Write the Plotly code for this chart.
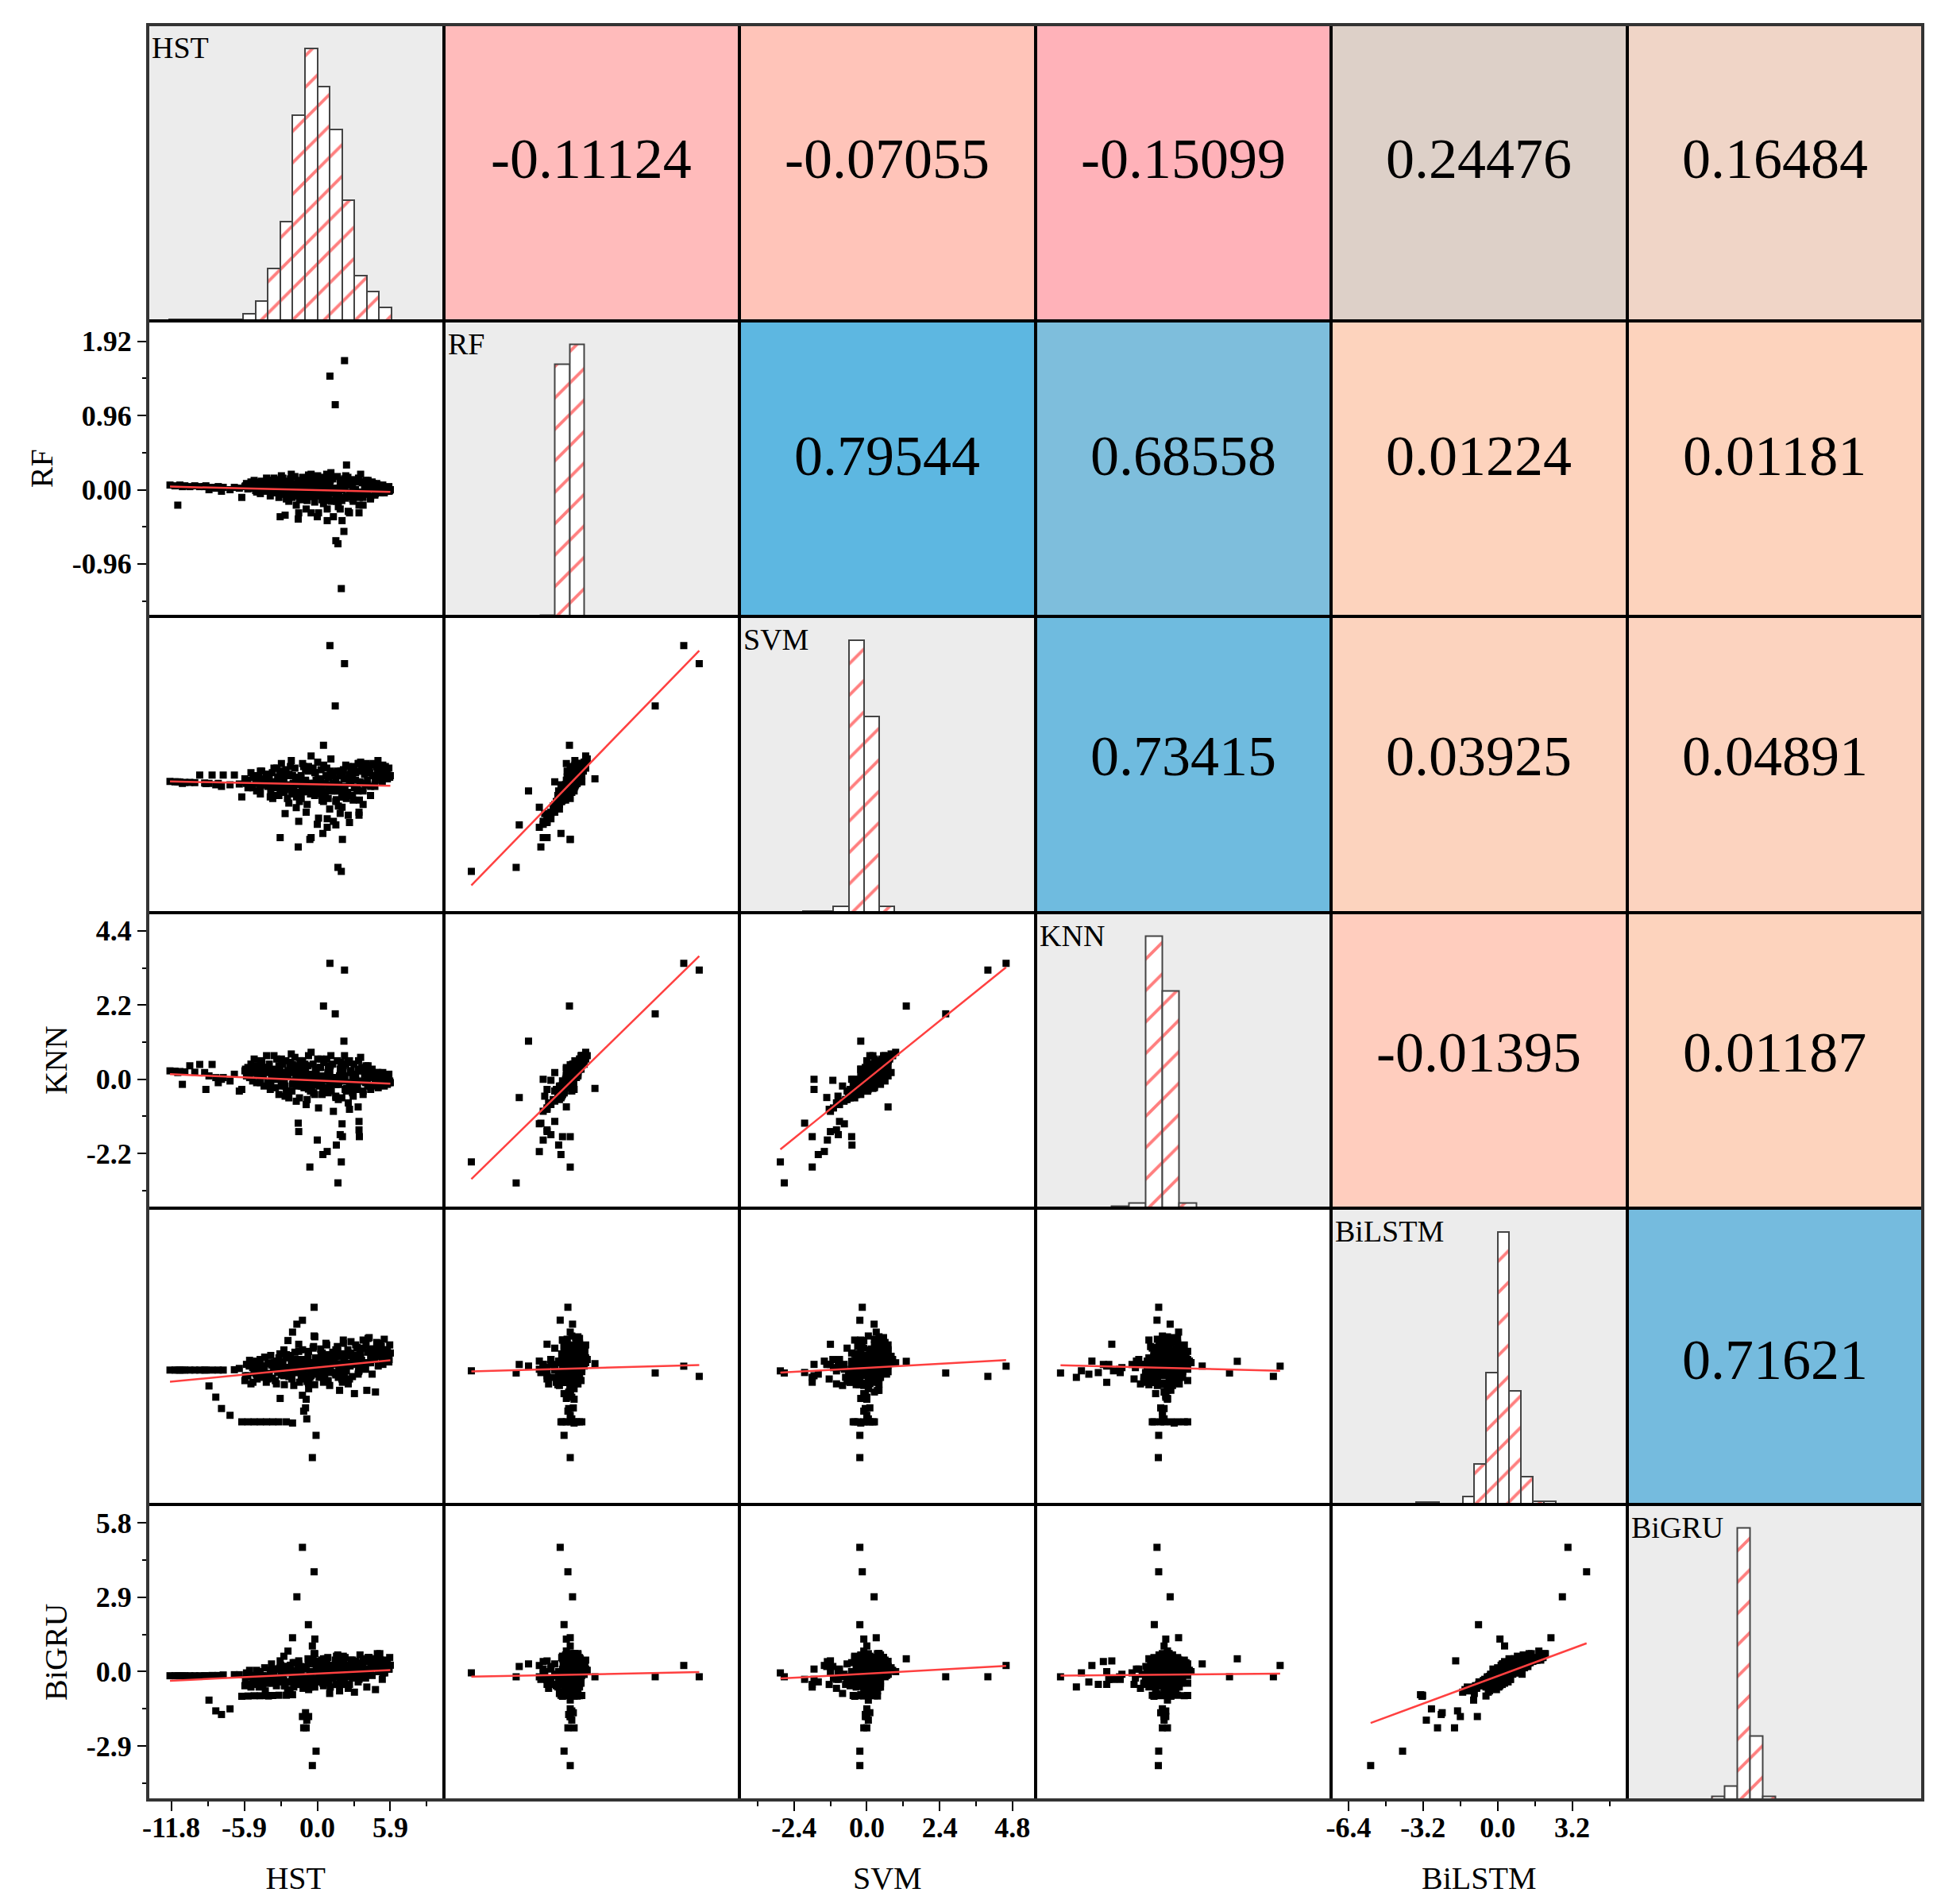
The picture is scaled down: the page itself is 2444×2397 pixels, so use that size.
import plotly.graph_objects as go
from plotly.subplots import make_subplots

MODELS = ["HST", "RF", "SVM", "KNN", "BiLSTM", "BiGRU"]

# residual samples, one value per sample for every model (same order in each list)
HST = [
    # long left tail
    -11.9, -11.5, -11.1, -10.7, -10.3, -9.9, -9.5, -9.1, -8.5, -8.0, -7.6, -6.7, -6.3, -10.9, -9.0, -11.27,
    # lower branch
    -8.75, -8.2, -7.74, -7.05, -6.1, -5.6, -5.1, -4.6, -4.1, -3.6, -3.1, -2.5, -2.0,
    -0.9, -1.1, -0.85, -1.2, -0.95, -0.7,
    -2.7, -2.37, -0.26,
    -0.4, -0.2, -3.0,
    -1.5, 0.8, 0.0,
    # BiLSTM / BiGRU outliers
    -0.26, -1.2, -1.65, -2.0, -0.72, -0.4, -0.1,
    # RF / SVM / KNN outliers
    1.02, 2.2, 1.45, 0.5, 2.15, 1.67, 1.94, -0.6, 0.45, 2.36, -2.6, -1.54, 1.5, 2.03,
    3.37, 3.37, 3.4, 2.0, 1.85, 1.54, 3.3,
    -3.0, -0.5, 0.8, 2.6,
    # core
    -5.8, -5.5, -5.2, -4.9, -4.6, -4.3, -4.0, -3.8, -3.5, -3.3,
    -3.1, -2.9, -2.7, -2.5, -2.3, -2.1, -1.9, -1.7, -1.5, -1.3,
    -1.1, -0.9, -0.7, -0.5, -0.3, -0.1, 0.1, 0.3, 0.5, 0.7,
    0.9, 1.1, 1.3, 1.5, 1.7, 1.9, 2.1, 2.3, 2.5, 2.7,
    2.9, 3.1, 3.3, 3.5, 3.7, 3.9, 4.1, 4.3, 4.5, 4.7,
    4.9, 5.1, 5.3, 5.5, 5.8, -0.6, 0.2, 0.6, 1.2, -1.0,
    1.8, 2.6, -2.0, 3.0, 4.0, -0.2, 0.4, -1.4, 2.2, 1.0,
    -5.85, -5.72, -5.61, -5.47, -5.36, -5.22, -5.11, -4.98, -4.86, -4.73,
    -4.62, -4.49, -4.37, -4.25, -4.12, -4.01, -3.88, -3.76, -3.63, -3.52,
    -3.39, -3.27, -3.15, -3.02, -2.91, -2.78, -2.66, -2.54, -2.41, -2.29,
    -2.17, -2.05, -1.92, -1.81, -1.68, -1.56, -1.44, -1.31, -1.19, -1.07,
    -0.95, -0.82, -0.71, -0.58, -0.46, -0.34, -0.21, -0.09, 0.03, 0.15,
    0.27, 0.39, 0.52, 0.64, 0.76, 0.88, 1.01, 1.13, 1.25, 1.37,
    1.49, 1.62, 1.74, 1.86, 1.98, 2.11, 2.23, 2.35, 2.47, 2.6,
    2.72, 2.84, 2.96, 3.09, 3.21, 3.33, 3.45, 3.58, 3.7, 3.82,
    3.94, 4.07, 4.19, 4.31, 4.43, 4.56, 4.68, 4.8, 4.92, 5.05,
    5.17, 5.29, 5.41, 5.54, 5.66, 5.78, 5.9, -0.5, 0.6, 1.9,
    -4.95, -4.4, -3.95, -3.45, -3.05, -2.6, -2.2, -1.75, -1.35, -0.95,
    -0.55, -0.15, 0.25, 0.65, 1.05, 1.45, 1.85, 2.25, 2.65, 3.05,
    3.45, 3.85, 4.25, 4.65, 5.05, 5.45, 5.85, -4.7, -4.2, -3.7,
    -3.2, -2.8, -2.4, -1.95, -1.55, -1.15, -0.75, -0.35, 0.05, 0.45,
    0.85, 1.25, 1.65, 2.05, 2.45, 2.85, 3.25, 3.65, 4.05, 4.45,
    4.85, 5.25, 5.65, -0.25, 0.35, 0.95, 1.55, 2.15, -1.85, -2.95,
]
RF = [
    0.06, 0.05, 0.06, 0.05, 0.04, 0.05, 0.04, 0.04, 0.03, 0.04, 0.03, 0.03, 0.02, 0.04, 0.05, -0.20,
    0.00, 0.02, -0.02, 0.00, -0.10, 0.05, 0.12, -0.05, 0.15, 0.00, 0.08, -0.12, 0.05,
    0.05, -0.03, 0.02, 0.00, 0.04, 0.00,
    0.05, -0.05, 0.02,
    0.00, -0.05, -0.05,
    -0.30, -0.40, -0.35,
    -0.03, -0.13, 0.03, 0.00, -0.08, 0.00, -0.08,
    1.47, 1.67, 1.10, -0.01, -0.54, -0.70, -1.28, 0.00, -0.12, 0.32, -0.33, -0.38, -0.66, 0.00,
    -0.20, -0.30, -0.10, -0.40, -0.25, -0.15, -0.05,
    -0.35, -0.30, -0.25, -0.30,
    0.05, 0.02, 0.08, -0.03, 0.10, 0.00, 0.12, -0.08, 0.15, 0.05,
    -0.10, 0.18, -0.05, 0.08, -0.15, 0.20, 0.00, -0.20, 0.10, -0.12,
    0.14, -0.25, 0.05, 0.20, -0.08, 0.00, -0.30, 0.16, -0.18, 0.08,
    -0.05, 0.22, -0.35, 0.02, -0.22, 0.12, -0.10, 0.18, -0.28, 0.06,
    -0.15, 0.10, -0.05, 0.20, -0.20, 0.04, 0.12, -0.12, 0.08, -0.02,
    0.06, -0.04, 0.02, 0.00, -0.02, -0.02, 0.06, -0.10, 0.00, 0.04,
    0.00, 0.10, -0.04, -0.08, 0.00, 0.10, -0.06, 0.06, 0.14, -0.14,
    0.04, 0.08, 0.01, 0.06, 0.10, 0.03, 0.07, -0.01, 0.09, 0.05,
    0.02, 0.11, 0.06, -0.02, 0.08, 0.04, 0.12, 0.00, 0.07, 0.10,
    -0.04, 0.13, 0.05, 0.09, -0.06, 0.15, 0.02, 0.11, -0.08, 0.06,
    0.14, -0.10, 0.08, 0.17, -0.03, 0.12, -0.12, 0.05, 0.16, -0.07,
    0.10, -0.14, 0.19, 0.02, -0.09, 0.13, -0.16, 0.07, 0.18, -0.05,
    0.11, -0.13, 0.15, -0.02, 0.20, -0.10, 0.06, -0.15, 0.14, 0.01,
    -0.11, 0.17, -0.06, 0.09, -0.14, 0.12, 0.03, -0.09, 0.16, -0.04,
    0.08, -0.12, 0.13, 0.00, -0.08, 0.15, -0.03, 0.10, -0.10, 0.05,
    0.12, -0.06, 0.07, -0.09, 0.10, 0.02, -0.05, 0.08, -0.03, 0.05,
    0.00, 0.06, -0.04, 0.03, -0.02, 0.04, 0.00, 0.01, -0.03, 0.09,
    0.07, 0.03, 0.09, 0.01, 0.06, -0.02, 0.10, 0.04, -0.05, 0.08,
    -0.07, 0.11, 0.00, -0.09, 0.12, -0.04, 0.07, -0.11, 0.09, -0.06,
    0.10, -0.03, 0.06, -0.07, 0.04, 0.02, -0.01, 0.05, 0.08, 0.02,
    0.07, -0.04, 0.09, 0.01, -0.08, 0.06, 0.13, -0.03, 0.05, -0.10,
    0.08, 0.00, -0.06, 0.11, -0.09, 0.04, -0.05, 0.09, -0.02, 0.03,
    0.06, -0.03, 0.02, 0.03, -0.04, 0.07, -0.02, 0.05, -0.06, 0.04,
]
SVM = [
    0.11, 0.10, 0.09, 0.08, 0.08, 0.07, 0.32, 0.06, 0.32, 0.05, 0.32, 0.32, 0.03, 0.05, 0.04, 0.10,
    0.05, 0.00, -0.05, 0.00, -0.40, -0.10, 0.25, -0.30, 0.10, -0.45, 0.20, 0.00, -0.20,
    0.00, -0.10, 0.05, -0.05, 0.10, 0.00,
    0.10, -0.10, 0.05,
    0.00, -0.10, -0.20,
    -1.20, -1.40, -1.30,
    -0.15, -0.23, 0.24, 0.31, -0.23, -0.23, -0.23,
    4.59, 3.99, 2.60, 1.30, -0.20, -2.72, -2.85, -1.80, -1.60, 0.20, -0.95, -2.05, -1.32, -1.80,
    -0.90, -1.00, -0.50, -0.74, -0.94, -0.49, 0.70,
    -1.74, -1.74, -1.12, -1.24,
    0.10, -0.05, 0.30, -0.20, 0.45, 0.05, 0.20, -0.40, 0.55, 0.10,
    -0.35, 0.70, -0.25, 0.35, -0.60, 0.80, -0.10, -0.75, 0.25, -0.45,
    0.60, -0.90, 0.05, 0.95, -0.30, 0.15, -1.10, 0.50, -0.55, 0.30,
    -0.05, 0.85, -1.20, 0.20, -0.70, 0.45, -0.40, 0.65, -1.00, 0.10,
    -0.50, 0.40, -0.20, 0.75, -0.65, 0.00, 0.55, -0.35, 0.70, 0.25,
    0.80, 0.45, 0.20, 0.60, 0.30, -0.15, 0.20, -0.25, 0.00, 0.10,
    0.35, 0.30, -0.20, -0.10, 0.40, 0.40, -0.50, 0.00, 0.20, -0.80,
    0.20, 0.05, 0.15, -0.05, 0.40, -0.10, 0.30, 0.10, 0.05, 0.25,
    -0.15, 0.45, 0.00, 0.15, 0.35, -0.05, 0.20, -0.20, 0.40, 0.10,
    -0.35, 0.55, 0.00, 0.45, -0.05, 0.30, -0.25, 0.50, -0.45, 0.35,
    0.60, -0.30, 0.05, 0.55, -0.40, 0.15, -0.55, 0.30, 0.70, -0.05,
    0.50, -0.65, 0.60, -0.15, -0.10, 0.55, -0.35, 0.00, 0.75, -0.30,
    0.15, -0.50, 0.65, 0.05, 0.55, -0.45, 0.30, -0.20, 0.40, -0.20,
    -0.55, 0.45, 0.00, 0.40, -0.40, 0.50, -0.05, -0.45, 0.60, 0.05,
    0.45, -0.35, 0.60, 0.15, -0.15, 0.70, 0.10, 0.55, -0.20, 0.35,
    0.70, 0.00, 0.55, -0.05, 0.65, 0.30, 0.15, 0.60, 0.25, 0.50,
    0.35, 0.65, 0.25, 0.45, 0.20, 0.55, 0.30, -0.10, 0.05, 0.30,
    0.25, 0.00, 0.35, -0.10, 0.10, -0.15, 0.30, 0.20, -0.25, 0.15,
    -0.30, 0.40, 0.05, -0.35, 0.45, -0.05, 0.30, -0.40, 0.35, -0.10,
    0.45, 0.05, 0.40, -0.05, 0.35, 0.40, 0.25, 0.10, 0.20, 0.00,
    0.25, -0.20, 0.30, 0.05, -0.30, 0.10, 0.45, -0.15, 0.20, -0.35,
    0.25, 0.05, -0.20, 0.40, -0.25, 0.20, -0.10, 0.45, 0.15, 0.30,
    0.40, 0.10, 0.35, 0.05, -0.15, 0.25, 0.00, 0.20, -0.25, 0.10,
]
KNN = [
    0.25, 0.24, 0.23, 0.22, 0.40, 0.21, 0.44, 0.20, 0.44, -0.10, 0.05, 0.15, -0.35, -0.15, -0.30, 0.20,
    0.10, 0.05, 0.00, -0.05, -0.30, 0.20, 0.60, -0.10, 0.70, 0.00, 0.40, -0.35, 0.30,
    0.10, -0.05, 0.00, 0.05, -0.10, 0.00,
    0.05, 0.10, -0.05,
    0.00, 0.05, 0.10,
    -1.55, -2.14, -1.80,
    -0.16, -0.21, 0.18, 0.43, -0.29, -0.17, -0.16,
    3.44, 3.24, 1.94, 2.17, 1.13, -3.07, -2.45, -2.60, -2.23, -0.27, -0.50, -1.30, -0.54, -1.70,
    -1.25, -1.50, -1.70, -1.32, -1.64, -1.95, -0.82,
    0.00, -0.30, -0.03, -0.89,
    0.30, 0.10, 0.40, -0.10, 0.55, -0.20, 0.35, -0.30, 0.70, 0.05,
    -0.45, 0.60, 0.00, 0.20, -0.55, 0.75, 0.25, -0.65, 0.40, -0.20,
    0.30, -0.75, 0.15, 0.80, -0.40, -0.05, -0.85, 0.60, -0.30, 0.05,
    0.35, 0.70, -0.95, -0.15, -0.60, 0.50, -0.05, 0.45, -0.70, 0.25,
    -0.50, 0.15, 0.30, 0.65, -0.35, -0.10, 0.40, -0.20, 0.10, 0.00,
    0.20, -0.15, 0.05, -0.05, -0.10, 0.10, 0.35, -0.35, 0.05, 0.45,
    0.10, 0.55, -0.15, -0.25, 0.20, 0.10, 0.00, 0.55, 0.70, -0.20,
    0.25, 0.10, 0.35, 0.05, 0.45, -0.05, 0.30, 0.20, 0.15, 0.40,
    0.00, 0.50, 0.10, 0.25, 0.35, -0.10, 0.45, -0.15, 0.30, 0.20,
    -0.25, 0.60, 0.15, 0.35, -0.20, 0.45, -0.05, 0.55, -0.40, 0.25,
    0.50, -0.35, 0.20, 0.65, -0.15, 0.30, -0.55, 0.10, 0.55, -0.25,
    0.40, -0.60, 0.70, -0.05, -0.30, 0.45, -0.45, 0.15, 0.60, -0.20,
    0.35, -0.45, 0.50, 0.10, 0.60, -0.40, 0.20, -0.35, 0.45, -0.10,
    -0.50, 0.55, -0.15, 0.30, -0.55, 0.40, 0.05, -0.35, 0.50, -0.10,
    0.25, -0.40, 0.45, 0.00, -0.30, 0.55, -0.05, 0.35, -0.45, 0.15,
    0.40, -0.20, 0.25, -0.30, 0.30, 0.05, -0.15, 0.20, -0.25, 0.10,
    -0.05, 0.20, -0.20, 0.10, -0.15, 0.15, -0.10, 0.00, -0.25, 0.25,
    0.30, 0.10, 0.20, 0.00, 0.15, -0.20, 0.35, 0.05, -0.15, 0.25,
    -0.35, 0.30, 0.10, -0.25, 0.40, 0.05, 0.15, -0.30, 0.20, -0.15,
    0.25, -0.05, 0.15, -0.20, 0.10, 0.05, -0.05, 0.20, 0.30, 0.10,
    0.15, -0.10, 0.25, -0.05, -0.20, 0.15, 0.40, 0.00, 0.10, -0.25,
    0.20, -0.10, -0.15, 0.30, -0.30, 0.05, -0.20, 0.25, 0.00, 0.10,
    0.15, -0.10, 0.05, 0.10, -0.15, 0.20, -0.05, 0.10, -0.10, 0.15,
]
BILSTM = [
    -0.05, -0.05, -0.05, -0.05, -0.05, -0.05, -0.05, -0.05, -0.05, -0.05, -0.05, -0.03, 0.05, -0.05, -0.05, -0.05,
    -1.03, -1.72, -2.42, -2.84, -3.24, -3.24, -3.24, -3.24, -3.24, -3.24, -3.24, -3.24, -3.31,
    -1.85, -2.58, -3.06, -1.60, -2.38, -0.87,
    1.19, 1.77, 2.05,
    0.30, 0.10, -1.80,
    1.54, 0.50, 0.30,
    3.82, 3.02, 2.78, 2.29, -0.82, -5.45, -4.08,
    0.19, -0.44, -0.23, 0.49, 0.20, -0.23, -0.10, -0.50, -0.30, 0.35, 0.10, -0.20, 0.30, -0.80,
    0.10, -0.10, 0.20, 0.00, 0.30, -0.20, 0.50,
    0.30, -0.40, 0.60, -0.60,
    -0.40, 0.20, -0.80, 0.50, -0.30, 0.10, -0.60, 0.40, 0.00, -0.90,
    0.70, 0.25, -0.40, 0.90, -0.20, 0.50, -1.00, 0.30, 1.10, -0.60,
    0.00, 0.60, -1.20, 0.40, 1.40, -0.30, 0.10, 0.90, -0.80, 1.60,
    -0.10, 0.60, 0.30, 1.20, -0.50, 0.80, 1.80, 0.20, -0.90, 1.00,
    0.50, 1.50, -0.30, 0.70, 1.30, 0.00, 1.90, 0.40, 1.10, -1.40,
    0.80, 1.60, 0.30, 1.20, 0.60, 0.20, 0.50, -0.40, 0.70, -0.50,
    -1.30, 0.35, 0.10, -1.50, -1.30, 2.00, 1.00, 0.60, -0.70, -1.00,
    -0.70, 0.30, -0.40, 0.55, -0.90, 0.10, -0.20, 0.45, -0.60, 0.20,
    0.60, -0.50, 0.00, 0.75, -0.80, 0.35, -0.25, 0.85, -0.55, 0.15,
    -0.70, 0.50, 0.05, 0.95, -0.35, 0.30, -0.95, 0.70, 0.10, -0.45,
    0.85, -0.60, 0.40, 1.05, -0.20, 0.60, -0.80, 0.25, 1.20, -0.40,
    0.55, -0.75, 1.10, 0.05, -0.30, 1.30, -0.95, 0.70, 0.35, -0.50,
    1.25, -0.40, 0.80, 0.10, 1.50, -0.70, 0.45, -0.20, 1.05, 0.65,
    -0.35, 1.40, 0.20, 0.95, -0.60, 1.60, 0.60, -0.10, 1.20, 0.35,
    1.70, -0.45, 0.85, 0.30, 1.35, -0.15, 1.05, 0.55, 1.80, 0.10,
    1.50, 0.40, 1.95, 0.75, -0.30, 1.25, 0.90, 1.65, 0.20, 1.10,
    1.40, 0.60, 1.85, 0.95, 1.20, 0.45, 1.00, 0.40, 0.80, -0.20,
    -0.30, 0.20, -0.50, 0.40, -0.10, 0.10, -0.40, 0.55, 0.00, 0.30,
    -0.20, 0.70, 0.15, 0.50, -0.10, 0.80, 0.35, 0.95, 0.20, 0.65,
    1.10, 0.40, 1.25, 0.60, 1.35, 0.90, 1.50, 0.05, -0.35, 0.25,
    -0.20, 0.45, -0.05, 0.60, 0.15, -0.30, 0.75, 0.35, 0.55, 0.10,
    0.90, 0.45, 1.15, 0.20, 0.85, 0.50, 1.30, 0.25, 1.05, 0.70,
    1.45, 0.55, 1.15, 0.05, 0.65, 0.30, 0.85, 0.40, -0.10, 0.20,
]
BIGRU = [
    -0.16, -0.16, -0.16, -0.16, -0.16, -0.16, -0.16, -0.16, -0.15, -0.15, -0.13, -0.12, -0.12, -0.16, -0.16, -0.16,
    -1.11, -1.53, -1.67, -1.45, -0.96, -0.95, -0.94, -0.94, -0.93, -0.93, -0.92, -0.92, -0.90,
    -2.19, -2.19, -1.89, -1.75, -1.60, -1.75,
    0.60, 0.80, 0.70,
    1.00, 1.27, 0.42,
    0.42, 0.24, 0.39,
    3.89, 4.84, 2.92, 1.32, 1.83, -3.66, -3.10,
    0.24, -0.20, -0.20, 0.50, 0.30, -0.20, -0.05, -0.60, -0.40, -0.20, 0.00, -0.30, 0.20, -0.50,
    -0.10, -0.30, 0.00, -0.20, -0.30, -0.50, 0.10,
    0.10, -0.30, 0.20, -0.50,
    -0.30, -0.20, -0.50, 0.05, -0.35, -0.25, -0.45, 0.00, -0.15, -0.55,
    0.10, -0.10, -0.35, 0.20, -0.40, 0.05, -0.60, -0.10, 0.30, -0.50,
    -0.20, 0.10, -0.70, 0.00, 0.40, -0.30, -0.25, 0.15, -0.55, 0.50,
    -0.20, 0.05, -0.05, 0.30, -0.50, 0.20, 0.60, -0.10, -0.65, 0.25,
    0.00, 0.40, -0.40, 0.10, 0.30, -0.25, 0.55, -0.05, 0.20, -0.70,
    0.15, 0.45, -0.05, 0.30, 0.10, -0.15, 0.00, -0.35, 0.10, -0.40,
    -0.75, -0.05, -0.30, -0.80, -0.60, 0.70, 0.35, 0.00, -0.45, -0.85,
    -0.55, -0.05, -0.50, 0.05, -0.60, -0.30, -0.20, -0.15, -0.35, -0.10,
    0.00, -0.45, -0.15, 0.15, -0.40, -0.20, -0.45, 0.05, -0.30, -0.05,
    -0.45, 0.10, -0.30, 0.15, -0.20, -0.10, -0.55, 0.20, -0.05, -0.40,
    0.25, -0.35, -0.15, 0.35, -0.30, 0.00, -0.50, -0.05, 0.20, -0.25,
    0.15, -0.45, 0.30, -0.20, -0.10, 0.45, -0.60, 0.05, 0.10, -0.35,
    0.35, -0.30, 0.20, -0.15, 0.45, -0.40, 0.05, -0.25, 0.25, 0.10,
    -0.20, 0.40, -0.05, 0.30, -0.35, 0.50, 0.15, -0.15, 0.25, 0.00,
    0.45, -0.25, 0.20, 0.05, 0.35, -0.10, 0.20, 0.15, 0.50, -0.05,
    0.40, 0.10, 0.55, 0.25, -0.15, 0.30, 0.15, 0.45, 0.00, 0.30,
    0.35, 0.15, 0.45, 0.20, 0.30, 0.10, 0.25, -0.05, 0.10, -0.30,
    -0.45, -0.50, -0.95, -0.35, -0.25, -0.55, -0.80, -0.30, 0.15, -0.40,
    -0.55, 0.30, -0.40, 0.40, -0.60, 0.45, -0.35, 0.55, 0.20, -0.10,
    0.65, -0.20, 0.45, 0.40, 0.70, -0.05, 0.55, -0.60, -0.75, 0.30,
    0.10, -0.40, -0.70, 0.35, 0.25, -0.65, 0.50, -0.30, 0.40, -0.45,
    0.55, -0.25, 0.65, -0.40, -0.05, 0.45, 0.20, 0.30, -0.10, 0.50,
    0.70, -0.30, 0.15, -0.55, 0.45, -0.45, 0.60, 0.10, -0.50, 0.25,
]

# histogram bins (edges) and counts on the diagonal
HST_EDGES = [-12, -11, -10, -9, -8, -7, -6, -5, -4, -3, -2, -1, 0, 1, 2, 3, 4, 5, 6]
HST_COUNTS = [3, 3, 3, 3, 3, 3, 17, 48, 128, 244, 506, 671, 576, 471, 297, 111, 71, 32]
RF_EDGES = [-0.39, -0.20, -0.01, 0.18]
RF_COUNTS = [3, 668, 720]
SVM_EDGES = [-2.1, -1.6, -1.1, -0.6, -0.1, 0.4, 0.9]
SVM_COUNTS = [4, 4, 15, 721, 518, 15]
KNN_EDGES = [-1.55, -1.05, -0.55, -0.05, 0.45, 0.95]
KNN_COUNTS = [7, 20, 1027, 819, 20]
BILSTM_EDGES = [-3.5, -3.0, -2.5, -2.0, -1.5, -1.0, -0.5, 0.0, 0.5, 1.0, 1.5, 2.0, 2.5]
BILSTM_COUNTS = [5, 5, 0, 0, 21, 106, 350, 723, 300, 73, 8, 8]
BIGRU_EDGES = [-1.7, -1.2, -0.7, -0.2, 0.3, 0.8]
BIGRU_COUNTS = [10, 36, 723, 169, 10]

# Pearson correlations, upper triangle read row by row
CORR = [-0.11124, -0.07055, -0.15099, 0.24476, 0.16484,
        0.79544, 0.68558, 0.01224, 0.01181,
        0.73415, 0.03925, 0.04891,
        -0.01395, 0.01187,
        0.71621]
CORR_COLORS = ["#ffbbbb", "#ffc4b9", "#ffb2b9", "#ddd0c8", "#f0d5c7",
               "#5db7e1", "#7ebedc", "#fdd3bd", "#fdd3bd",
               "#6fbbdf", "#fcd3be", "#fcd3bf",
               "#ffcdbe", "#fdd3bd",
               "#75bbde"]
# small vertical nudge of the numbers, per row (px)
ROW_TEXT_SHIFT = [17, 16, 10, 10, -5]

# linear fits for the lower triangle, order (2,1),(3,1),(3,2),(4,1),...,(6,5)
FIT_SLOPE = [-0.0039, -0.0078, 2.623, -0.0159, 2.24, 0.7255,
             0.0744, 0.1356, 0.103, -0.0519,
             0.0233, 0.061, 0.0659, 0.0122, 0.335]
FIT_INTERCEPT = [-0.0065, 0.017, 0.041, -0.038, -0.09, -0.0094,
                 0.113, 0.036, 0.088, 0.082,
                 -0.08, -0.12, -0.08, -0.12, -0.174]

# axis ranges per model (as column / as row)
X_RANGE = {"HST": [-13.7, 10.2], "RF": [-1.64, 2.19], "SVM": [-4.2, 5.55],
           "KNN": [-3.82, 4.95], "BiLSTM": [-7.15, 5.55], "BiGRU": [-5.0, 6.53]}
Y_RANGE = {"RF": [-1.64, 2.19], "SVM": [-4.2, 5.55], "KNN": [-3.82, 4.95],
           "BiLSTM": [-8.31, 9.93], "BiGRU": [-5.0, 6.53]}

# labelled axes
X_TICKS = {"HST": [-11.8, -5.9, 0.0, 5.9], "SVM": [-2.4, 0.0, 2.4, 4.8], "BiLSTM": [-6.4, -3.2, 0.0, 3.2]}
X_TICK_TEXT = {"HST": ["-11.8", "-5.9", "0.0", "5.9"], "SVM": ["-2.4", "0.0", "2.4", "4.8"],
               "BiLSTM": ["-6.4", "-3.2", "0.0", "3.2"]}
Y_TICKS = {"RF": [-0.96, 0.0, 0.96, 1.92], "KNN": [-2.2, 0.0, 2.2, 4.4], "BiGRU": [-2.9, 0.0, 2.9, 5.8]}
Y_TICK_TEXT = {"RF": ["-0.96", "0.00", "0.96", "1.92"], "KNN": ["-2.2", "0.0", "2.2", "4.4"],
               "BiGRU": ["-2.9", "0.0", "2.9", "5.8"]}

VALUES = {"HST": HST, "RF": RF, "SVM": SVM, "KNN": KNN, "BiLSTM": BILSTM, "BiGRU": BIGRU}
HISTS = {"HST": (HST_EDGES, HST_COUNTS), "RF": (RF_EDGES, RF_COUNTS), "SVM": (SVM_EDGES, SVM_COUNTS),
         "KNN": (KNN_EDGES, KNN_COUNTS), "BiLSTM": (BILSTM_EDGES, BILSTM_COUNTS),
         "BiGRU": (BIGRU_EDGES, BIGRU_COUNTS)}

SERIF = "Liberation Serif"
N = len(MODELS)

fig = make_subplots(rows=N, cols=N, horizontal_spacing=0, vertical_spacing=0)


def ax_id(r, c):
    n = (r - 1) * N + c
    return ("x" if n == 1 else f"x{n}"), ("y" if n == 1 else f"y{n}"), n


base_axis = dict(showline=True, mirror=True, linecolor="black", linewidth=2,
                 showgrid=False, zeroline=False, ticks="", showticklabels=False)
tick_font = dict(family=SERIF, size=36, color="black", weight="bold")
title_font = dict(family=SERIF, size=40, color="black")

corr_i = 0
fit_i = 0
for r in range(1, N + 1):
    for c in range(1, N + 1):
        xa, ya, n = ax_id(r, c)
        xkey = "xaxis" if n == 1 else f"xaxis{n}"
        ykey = "yaxis" if n == 1 else f"yaxis{n}"
        xname, yname = MODELS[c - 1], MODELS[r - 1]
        xaxis = dict(base_axis)
        yaxis = dict(base_axis)

        if r == c:
            edges, counts = HISTS[xname]
            centers = [(a + b) / 2 for a, b in zip(edges[:-1], edges[1:])]
            widths = [b - a for a, b in zip(edges[:-1], edges[1:])]
            fig.add_shape(type="rect", xref=f"{xa} domain", yref=f"{ya} domain",
                          x0=0, x1=1, y0=0, y1=1, fillcolor="#ececec",
                          line=dict(width=0), layer="below")
            fig.add_trace(go.Bar(
                x=centers, y=counts, width=widths,
                marker=dict(color="white", line=dict(color="#444444", width=2),
                            pattern=dict(shape="/", fgcolor="#ff0000", bgcolor="white",
                                         size=28, solidity=0.14)),
                showlegend=False, hoverinfo="skip"), row=r, col=c)
            fig.add_annotation(text=xname, xref=f"{xa} domain", yref=f"{ya} domain",
                               x=0, y=1, xanchor="left", yanchor="top", xshift=3, yshift=-6,
                               showarrow=False, font=dict(family=SERIF, size=38, color="black"))
            xaxis["range"] = X_RANGE[xname]
            yaxis["range"] = [0, max(counts) / 0.92]
        elif r > c:
            xs, ys = VALUES[xname], VALUES[yname]
            fig.add_trace(go.Scatter(
                x=xs, y=ys, mode="markers",
                marker=dict(symbol="square", size=9, color="black", line=dict(width=0)),
                showlegend=False, hoverinfo="skip"), row=r, col=c)
            x_lo, x_hi = min(xs), max(xs)
            m, b = FIT_SLOPE[fit_i], FIT_INTERCEPT[fit_i]
            fig.add_trace(go.Scatter(
                x=[x_lo, x_hi], y=[m * x_lo + b, m * x_hi + b], mode="lines",
                line=dict(color="#ff4040", width=2.5),
                showlegend=False, hoverinfo="skip"), row=r, col=c)
            fit_i += 1
            xaxis["range"] = X_RANGE[xname]
            yaxis["range"] = Y_RANGE[yname]
        else:
            # empty trace so the cell gets its own subplot
            fig.add_trace(go.Scatter(x=[0.5], y=[0.5], mode="markers", marker=dict(opacity=0),
                                     showlegend=False, hoverinfo="skip"), row=r, col=c)
            fig.add_shape(type="rect", xref=f"{xa} domain", yref=f"{ya} domain",
                          x0=0, x1=1, y0=0, y1=1, fillcolor=CORR_COLORS[corr_i],
                          line=dict(width=0), layer="below")
            fig.add_annotation(text=f"{CORR[corr_i]:.5f}", xref=f"{xa} domain", yref=f"{ya} domain",
                               x=0.5, y=0.5, showarrow=False, yshift=ROW_TEXT_SHIFT[r - 1],
                               font=dict(family=SERIF, size=72, color="black"))
            corr_i += 1
            xaxis["range"] = [0, 1]
            yaxis["range"] = [0, 1]

        # labelled bottom axes
        if r == N and xname in X_TICKS:
            step = X_TICKS[xname][1] - X_TICKS[xname][0]
            xaxis.update(showticklabels=True, ticks="outside", ticklen=12, tickwidth=2,
                         tickcolor="black", tickmode="array", tickvals=X_TICKS[xname],
                         ticktext=X_TICK_TEXT[xname], tickfont=tick_font, ticklabelstandoff=-10,
                         minor=dict(tickmode="linear", tick0=0, dtick=step / 2, ticks="outside",
                                    ticklen=6, tickwidth=2, tickcolor="black"),
                         title=dict(text=xname, font=title_font, standoff=30))
        # labelled left axes
        if c == 1 and yname in Y_TICKS:
            step = Y_TICKS[yname][1] - Y_TICKS[yname][0]
            yaxis.update(showticklabels=True, ticks="outside", ticklen=11, tickwidth=2,
                         tickcolor="black", tickmode="array", tickvals=Y_TICKS[yname],
                         ticktext=Y_TICK_TEXT[yname], tickfont=tick_font,
                         minor=dict(tickmode="linear", tick0=0, dtick=step / 2, ticks="outside",
                                    ticklen=5, tickwidth=2, tickcolor="black"),
                         title=dict(text=yname, font=title_font, standoff=12))

        fig.layout[xkey].update(xaxis)
        fig.layout[ykey].update(yaxis)

# heavier outer frame
fig.add_shape(type="rect", xref="paper", yref="paper", x0=0, x1=1, y0=0, y1=1,
              line=dict(color="#333333", width=4), layer="above")

# the page adds 8 px around the figure, so the margins are trimmed by that much
fig.update_layout(
    width=2444, height=2397,
    margin=dict(l=178, r=31, t=23, b=139, autoexpand=False),
    paper_bgcolor="white", plot_bgcolor="white",
    bargap=0, showlegend=False,
)

fig.write_html("out.html")
